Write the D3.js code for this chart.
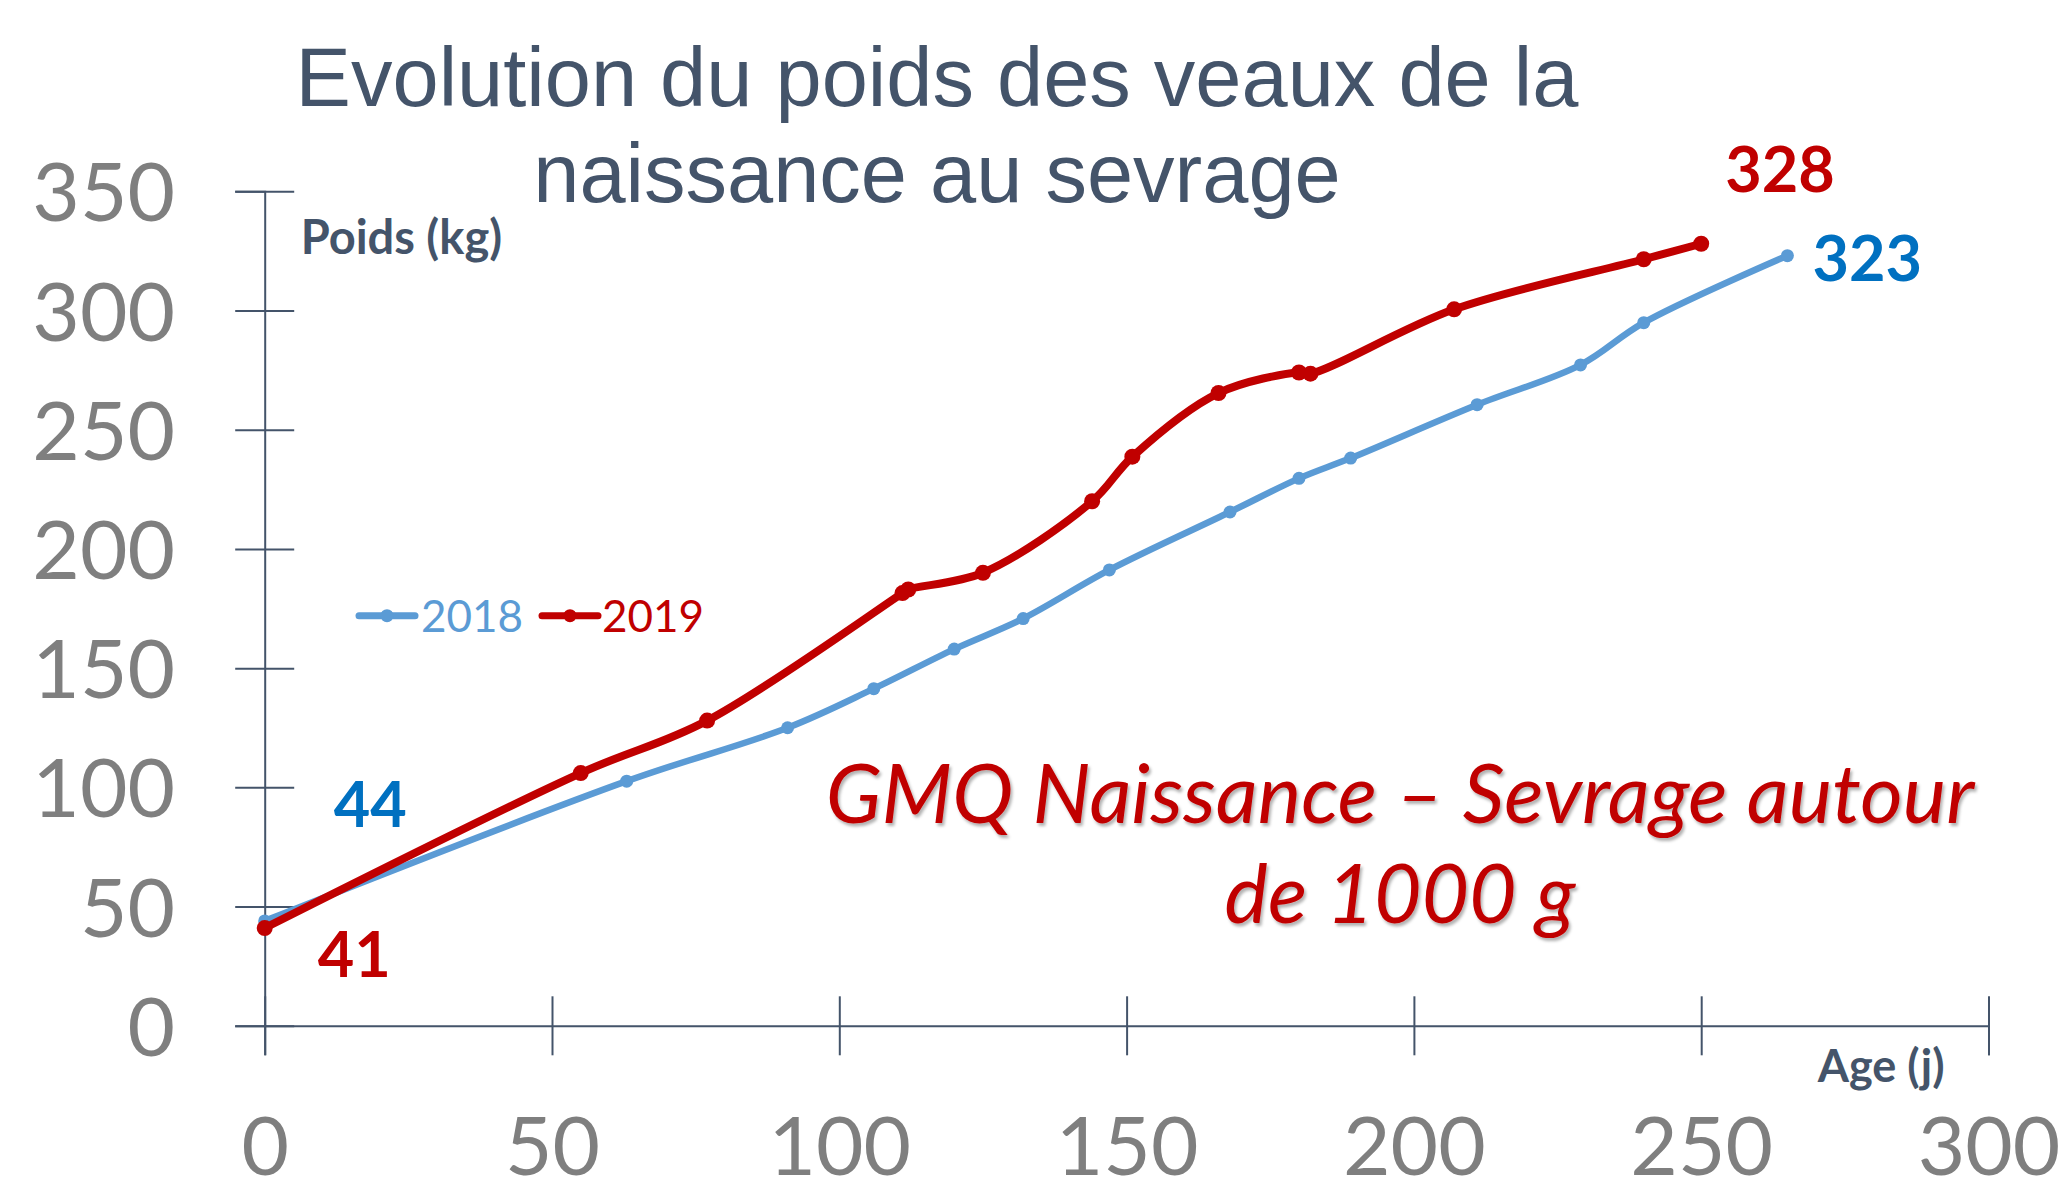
<!DOCTYPE html>
<html>
<head>
<meta charset="utf-8">
<script src="https://cdn.jsdelivr.net/npm/d3@7"></script>
<style>
  body { margin: 0; background: #fff; }
  svg { display: block; }
</style>
</head>
<body>
<div id="chart"></div>
<script>
// ages (j) and weights (kg)
var ages2018  = [0, 63, 91, 106, 120, 132, 147, 168, 180, 189, 211, 229, 240, 265];
var poids2018 = [44, 102.6, 125, 141.4, 158, 170.8, 191.2, 215.5, 229.6, 238.1, 260.5, 277.2, 294.9, 323];
var ages2019  = [0, 55, 77, 111, 112, 125, 144, 151, 166, 180, 182, 207, 240, 250];
var poids2019 = [41, 106, 128, 181.5, 183, 190, 220, 238.7, 265.4, 274, 273.5, 300.5, 321.5, 328];

var seriesNames = ['2018', '2019'];
var xTicks = [0, 50, 100, 150, 200, 250, 300];
var yTicks = [0, 50, 100, 150, 200, 250, 300, 350];

var titleLines = ['Evolution du poids des veaux de la', 'naissance au sevrage'];
var noteLines = ['GMQ Naissance \u2013 Sevrage autour', 'de 1000 g'];

var W = 2063, H = 1181;
var AXIS = '#44546A', TICKTXT = '#7F7F7F';
var BLUE = '#5B9BD5', RED = '#C00000', LBLUE = '#0070C0';
var CAL = 'Lato, "Open Sans", sans-serif';

var svg = d3.select('#chart').append('svg')
    .attr('width', W)
    .attr('height', H);

var defs = svg.append('defs');
defs.append('filter')
    .attr('id', 'shadow')
    .attr('x', '-5%').attr('y', '-20%').attr('width', '110%').attr('height', '140%')
  .append('feDropShadow')
    .attr('dx', 2).attr('dy', 3)
    .attr('stdDeviation', 1.6)
    .attr('flood-color', '#000')
    .attr('flood-opacity', 0.3);

var x = d3.scaleLinear().domain([0, 300]).range([264.7, 1988.5]);
var y = d3.scaleLinear().domain([0, 350]).range([1025.8, 191.3]);

// title
svg.append('g').selectAll('text')
    .data(titleLines)
  .enter().append('text')
    .attr('x', 937)
    .attr('y', function(d, i){ return 106 + i * 96; })
    .attr('text-anchor', 'middle')
    .style('font-family', '"Liberation Sans", Arial, sans-serif')
    .style('font-size', '83px')
    .style('fill', AXIS)
    .text(function(d){ return d; });

// axes, ticks crossing the line
var TK = 29.5;
var axisX = d3.axisBottom(x).tickValues(xTicks).tickSizeOuter(0).tickSize(TK);
var axisY = d3.axisLeft(y).tickValues(yTicks).tickSizeOuter(0).tickSize(TK);

var gx = svg.append('g')
    .attr('class', 'axisX')
    .attr('transform', 'translate(0,' + y(0) + ')')
    .call(axisX);
gx.selectAll('.tick line').attr('y1', -TK).attr('y2', TK);
gx.selectAll('.tick text')
    .attr('y', 149).attr('dy', 0);

var gy = svg.append('g')
    .attr('class', 'axisY')
    .attr('transform', 'translate(' + x(0) + ',0)')
    .call(axisY);
gy.selectAll('.tick line').attr('x1', -TK).attr('x2', TK);
gy.selectAll('.tick text')
    .attr('x', -(x(0) - 175)).attr('dy', '0.36em');

svg.selectAll('.axisX path, .axisY path, .axisX line, .axisY line')
    .style('stroke', AXIS)
    .style('stroke-width', 2);
svg.selectAll('.axisX .tick text, .axisY .tick text')
    .style('font-family', CAL)
    .style('font-size', '82px')
    .style('fill', TICKTXT);

// axis titles
svg.append('text')
    .attr('x', x(0) + 36)
    .attr('y', y(350) + 63)
    .style('font-family', CAL)
    .style('font-weight', 'bold')
    .style('font-size', '47px')
    .style('fill', AXIS)
    .text('Poids (kg)');

svg.append('text')
    .attr('x', x(300) - 44)
    .attr('y', y(0) + 56)
    .attr('text-anchor', 'end')
    .style('font-family', CAL)
    .style('font-weight', 'bold')
    .style('font-size', '45px')
    .style('fill', AXIS)
    .text('Age (j)');

// series
var series = [
  {name: seriesNames[0], ages: ages2018, poids: poids2018, color: BLUE, width: 6.5, r: 6.5},
  {name: seriesNames[1], ages: ages2019, poids: poids2019, color: RED, width: 8, r: 8}
];

var line = d3.line()
    .x(function(d){ return x(d[0]); })
    .y(function(d){ return y(d[1]); })
    .curve(d3.curveCatmullRom.alpha(0.5));

series.forEach(function(s){
  var pts = s.ages.map(function(a, i){ return [a, s.poids[i]]; });
  var g = svg.append('g').attr('class', 'serie s' + s.name);
  g.append('path')
      .datum(pts)
      .attr('d', line)
      .style('fill', 'none')
      .style('stroke', s.color)
      .style('stroke-width', s.width)
      .style('stroke-linejoin', 'round')
      .style('stroke-linecap', 'round');
  g.selectAll('circle')
      .data(pts)
    .enter().append('circle')
      .attr('cx', function(d){ return x(d[0]); })
      .attr('cy', function(d){ return y(d[1]); })
      .attr('r', s.r)
      .style('fill', s.color);
});

// legend
var leg = svg.append('g').attr('class', 'legend');
[{s: series[0], x0: 359, tx: 421}, {s: series[1], x0: 542, tx: 602}].forEach(function(l){
  leg.append('line')
      .attr('x1', l.x0).attr('x2', l.x0 + 56)
      .attr('y1', 615.7).attr('y2', 615.7)
      .style('stroke', l.s.color)
      .style('stroke-width', 7)
      .style('stroke-linecap', 'round');
  leg.append('circle')
      .attr('cx', l.x0 + 28).attr('cy', 615.7)
      .attr('r', 6.5)
      .style('fill', l.s.color);
  leg.append('text')
      .attr('x', l.tx).attr('y', 631.7)
      .style('font-family', CAL)
      .style('font-size', '44px')
      .style('fill', l.s.color)
      .text(l.s.name);
});

// value labels at start and end of each serie
var valueLabels = [
  {age: ages2018[0], v: poids2018[0], dx: 69, dy: -94, color: LBLUE},
  {age: ages2019[0], v: poids2019[0], dx: 53, dy: 49, color: RED},
  {age: ages2019[ages2019.length - 1], v: poids2019[poids2019.length - 1], dx: 24, dy: -52, color: RED},
  {age: ages2018[ages2018.length - 1], v: poids2018[poids2018.length - 1], dx: 25, dy: 25, color: LBLUE}
];
svg.append('g').selectAll('text')
    .data(valueLabels)
  .enter().append('text')
    .attr('x', function(d){ return x(d.age) + d.dx; })
    .attr('y', function(d){ return y(d.v) + d.dy; })
    .style('font-family', CAL)
    .style('font-weight', 'bold')
    .style('font-size', '63px')
    .style('fill', function(d){ return d.color; })
    .text(function(d){ return d.v; });

// GMQ note
svg.append('g')
    .attr('filter', 'url(#shadow)')
  .selectAll('text')
    .data(noteLines)
  .enter().append('text')
    .attr('x', 1400)
    .attr('y', function(d, i){ return 823 + i * 100; })
    .attr('text-anchor', 'middle')
    .style('font-family', CAL)
    .style('font-style', 'italic')
    .style('font-size', '82px')
    .style('fill', RED)
    .text(function(d){ return d; });
</script>
</body>
</html>
